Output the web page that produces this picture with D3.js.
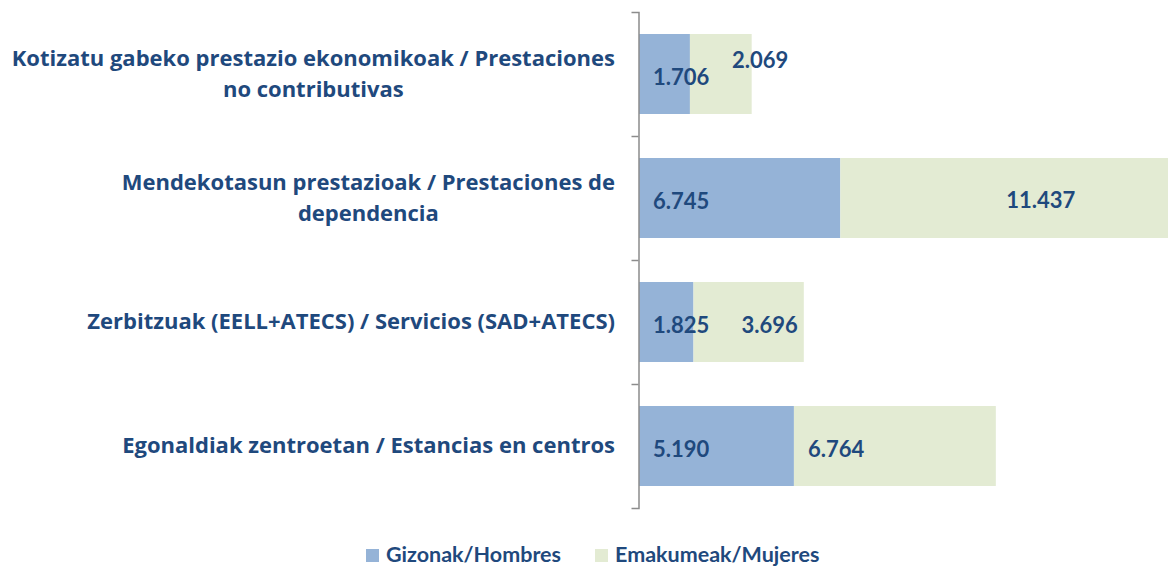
<!DOCTYPE html>
<html>
<head>
<meta charset="utf-8">
<script src="https://cdn.jsdelivr.net/npm/d3@7"></script>
<style>
	body { margin:0; background:#fff; overflow:hidden; }
	text { font-family: Lato, "Open Sans", sans-serif; font-weight:bold; fill:#1f497d; }
	text.cat { font-family: "Open Sans", Lato, sans-serif; }
</style>
</head>
<body>
<div id="chart"></div>
<script>
// data
const categories = [
	["Kotizatu gabeko prestazio ekonomikoak / Prestaciones", "no contributivas"],
	["Mendekotasun prestazioak / Prestaciones de", "dependencia"],
	["Zerbitzuak (EELL+ATECS) / Servicios (SAD+ATECS)"],
	["Egonaldiak zentroetan / Estancias en centros"]
];
const men = [1706, 6745, 1825, 5190];
const women = [2069, 11437, 3696, 6764];
const seriesNames = ["Gizonak/Hombres", "Emakumeak/Mujeres"];

// label nudges (pixels, from Excel manual placement)
const womenDx = [42, 166, 48, 14];
const womenDy = [-14, 2, 3, 3];

let width = 1168, height = 567;
let margin = {top:12, left:639};

let svg = d3.select("#chart").append("svg")
	.attr("width", width)
	.attr("height", height);

let fmt = d3.formatLocale({decimal:",", thousands:".", grouping:[3], currency:["",""]}).format(",d");

const xScale = d3.scaleLinear()
	.domain([0, 20000])
	.range([margin.left, margin.left + 597]);

const yScale = d3.scaleBand()
	.domain(d3.range(categories.length))
	.range([margin.top, 508])
	.paddingInner(0.355)
	.paddingOuter(0.1775);

const colors = ["#95b3d7", "#e3ebd3"];

// bars
svg.selectAll(".bar-men")
	.data(men)
	.enter().append("rect")
	.attr("x", xScale(0))
	.attr("y", (d,i)=>yScale(i))
	.attr("width", d=>xScale(d)-xScale(0))
	.attr("height", yScale.bandwidth())
	.attr("fill", colors[0]);

svg.selectAll(".bar-women")
	.data(women)
	.enter().append("rect")
	.attr("x", (d,i)=>xScale(men[i]))
	.attr("y", (d,i)=>yScale(i))
	.attr("width", (d,i)=>xScale(men[i]+d)-xScale(men[i]))
	.attr("height", yScale.bandwidth())
	.attr("fill", colors[1]);

// axis with ticks between categories
const boundScale = d3.scaleLinear()
	.domain([0, categories.length])
	.range([margin.top, 508]);

const yAxis = d3.axisLeft(boundScale)
	.tickValues(d3.range(1, categories.length))
	.tickFormat("")
	.tickSizeInner(7)
	.tickSizeOuter(7);

svg.append("g")
	.attr("class", "axis")
	.attr("transform", `translate(${margin.left - 0.5},0)`)
	.call(yAxis)
	.call(g=>g.selectAll("path,line").attr("stroke", "#8c8c8c").attr("stroke-width", 1.5));

// category labels (block right aligned, lines centred like Excel)
categories.forEach((lines, i)=>{
	let cy = yScale(i) + yScale.bandwidth()/2;
	let lh = 31;
	let t = svg.append("text")
		.attr("class", "cat")
		.attr("text-anchor", "middle")
		.style("font-size", "22px");
	let spans = lines.map((l, j)=>t.append("tspan")
		.attr("y", cy + (j - (lines.length-1)/2)*lh + 7)
		.text(l));
	let maxW = d3.max(spans, s=>s.node().getComputedTextLength());
	spans.forEach(s=>s.attr("x", 615 - maxW/2));
});

// value labels
svg.selectAll(".lab-men")
	.data(men)
	.enter().append("text")
	.attr("x", xScale(0) + 14)
	.attr("y", (d,i)=>yScale(i) + yScale.bandwidth()/2 + 3 + 8)
	.style("font-size", "22px")
	.text(d=>fmt(d));

svg.selectAll(".lab-women")
	.data(women)
	.enter().append("text")
	.attr("x", (d,i)=>xScale(men[i]) + womenDx[i])
	.attr("y", (d,i)=>yScale(i) + yScale.bandwidth()/2 + womenDy[i] + 8)
	.style("font-size", "22px")
	.text(d=>fmt(d));

// legend
const legendX = [366, 595];
seriesNames.forEach((name, i)=>{
	svg.append("rect")
		.attr("x", legendX[i])
		.attr("y", 549)
		.attr("width", 13)
		.attr("height", 13)
		.attr("fill", colors[i]);
	svg.append("text")
		.attr("x", legendX[i] + 20)
		.attr("y", 562)
		.style("font-size", "21.5px")
		.text(name);
});
</script>
</body>
</html>
